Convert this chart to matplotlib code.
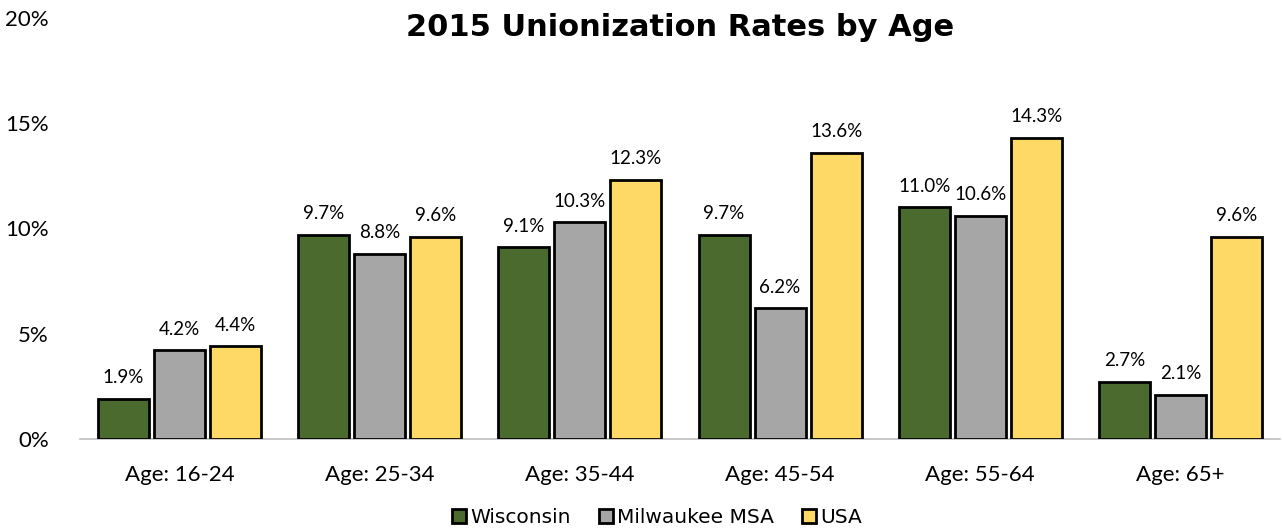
import matplotlib.pyplot as plt
import numpy as np

# data
ages = ["Age: 16-24", "Age: 25-34", "Age: 35-44", "Age: 45-54", "Age: 55-64", "Age: 65+"]
wisconsin = [1.9, 9.7, 9.1, 9.7, 11.0, 2.7]
milwaukee = [4.2, 8.8, 10.3, 6.2, 10.6, 2.1]
usa = [4.4, 9.6, 12.3, 13.6, 14.3, 9.6]

series = [("Wisconsin", wisconsin, "#4a6b2d"),
          ("Milwaukee MSA", milwaukee, "#a6a6a6"),
          ("USA", usa, "#ffd966")]

fig = plt.figure(figsize=(12.83, 5.28), dpi=100)
ax = fig.add_axes([0.062, 0.169, 0.936, 0.797])

x = np.arange(len(ages))
w = 0.255
offsets = [-0.28, 0.0, 0.28]
for (name, vals, col), off in zip(series, offsets):
    bars = ax.bar(x + off, vals, width=w, color=col, edgecolor="black",
                  linewidth=2.0, label=name, zorder=3)
    for b, v in zip(bars, vals):
        ax.annotate(f"{v:.1f}%", (b.get_x() + b.get_width() / 2, v),
                    xytext=(0, 9), textcoords="offset points",
                    ha="center", va="bottom", fontsize=13.5, family="Lato")

ax.set_xlim(-0.5, len(ages) - 0.5)
ax.set_ylim(0, 20)
ax.set_yticks([0, 5, 10, 15, 20])
ax.set_yticklabels(["0%", "5%", "10%", "15%", "20%"], family="Lato", fontsize=16)
ax.set_xticks(x)
ax.set_xticklabels(ages, family="Lato", fontsize=16)
ax.tick_params(axis="x", length=0, pad=19)
ax.tick_params(axis="y", length=0, pad=22)
for s in ["top", "right", "left"]:
    ax.spines[s].set_visible(False)
ax.spines["bottom"].set_color("#bfbfbf")
ax.spines["bottom"].set_linewidth(1.2)

fig.text(0.53, 0.947, "2015 Unionization Rates by Age", ha="center", va="center",
         fontsize=22, fontweight="bold", family="DejaVu Sans")

fig.legend(loc="lower center", bbox_to_anchor=(0.512, -0.033), ncol=3, frameon=False,
           prop={"family": "DejaVu Sans", "size": 14.5}, handlelength=0.7,
           handleheight=0.7, handletextpad=0.2, columnspacing=1.4)

fig.savefig("out.png", dpi=100)
